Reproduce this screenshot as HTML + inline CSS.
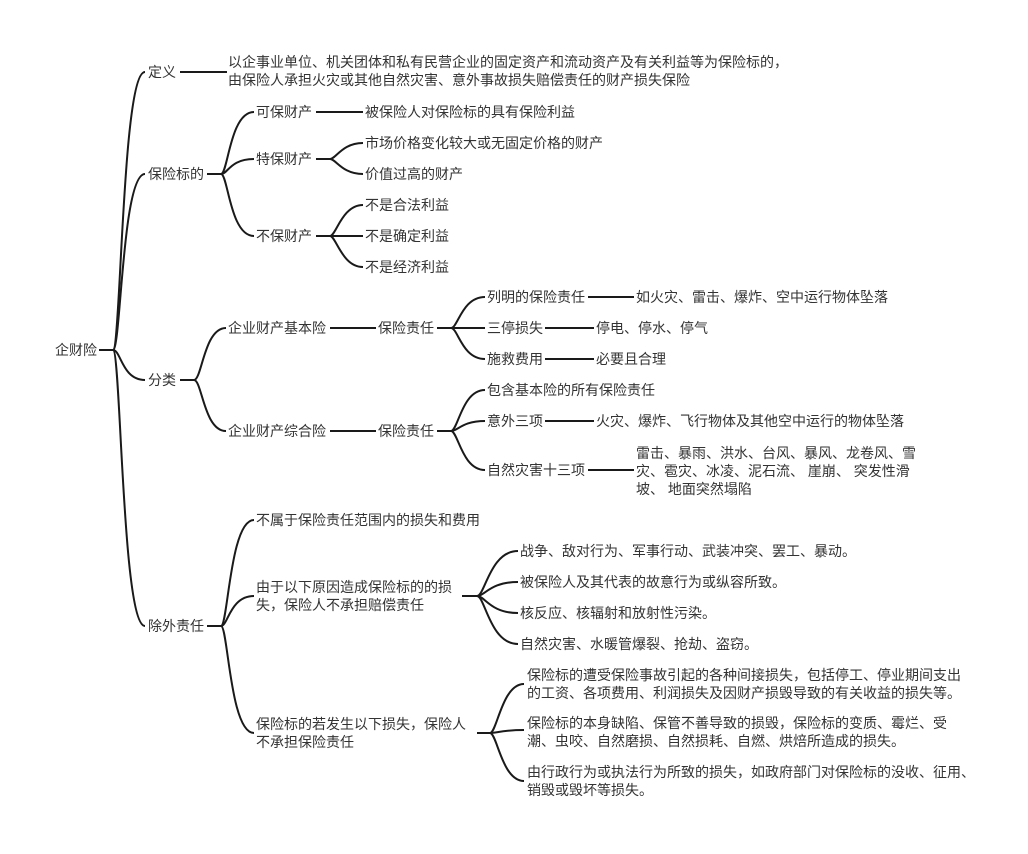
<!DOCTYPE html>
<html><head><meta charset="utf-8"><style>
html,body{margin:0;padding:0;background:#fff;}
svg{display:block}
text{font-family:"Liberation Sans","Noto Sans CJK SC",sans-serif;font-size:14px;fill:#333;dominant-baseline:central}
path,line{stroke:#1a1a1a;stroke-width:2;fill:none}
</style></head><body>
<svg width="1028" height="854" viewBox="0 0 1028 854" xmlns="http://www.w3.org/2000/svg">
<text x="55" y="350">企财险</text>
<line x1="99" y1="350" x2="113" y2="350"/>
<path d="M113 350 C121 350 122 72 145 72"/>
<path d="M113 350 C121 350 122 174 145 174"/>
<path d="M113 350 C121 350 122 380 145 380"/>
<path d="M113 350 C121 350 122 626 145 626"/>

<text x="148" y="72">定义</text>
<line x1="180" y1="72" x2="227" y2="72"/>
<text x="228" y="62">以企事业单位、机关团体和私有民营企业的固定资产和流动资产及有关利益等为保险标的，</text>
<text x="228" y="80">由保险人承担火灾或其他自然灾害、意外事故损失赔偿责任的财产损失保险</text>

<text x="148" y="174">保险标的</text>
<line x1="207" y1="174" x2="221" y2="174"/>
<path d="M221 174 C228 174 230 112 254 112"/>
<path d="M221 174 C228 174 230 159 254 159"/>
<path d="M221 174 C228 174 230 236 254 236"/>
<text x="256" y="112">可保财产</text>
<line x1="316" y1="112" x2="363" y2="112"/>
<text x="365" y="112">被保险人对保险标的具有保险利益</text>
<text x="256" y="159">特保财产</text>
<line x1="316" y1="159" x2="330" y2="159"/>
<path d="M330 159 C336 159 342 143 363 143"/>
<path d="M330 159 C336 159 342 174 363 174"/>
<text x="365" y="143">市场价格变化较大或无固定价格的财产</text>
<text x="365" y="174">价值过高的财产</text>
<text x="256" y="236">不保财产</text>
<line x1="316" y1="236" x2="363" y2="236"/>
<path d="M330 236 C336 236 342 205 363 205"/>
<path d="M330 236 C336 236 342 267 363 267"/>
<text x="365" y="205">不是合法利益</text>
<text x="365" y="236">不是确定利益</text>
<text x="365" y="267">不是经济利益</text>

<text x="148" y="380">分类</text>
<line x1="180" y1="380" x2="194" y2="380"/>
<path d="M194 380 C202 380 204 328 226 328"/>
<path d="M194 380 C202 380 204 431 226 431"/>
<text x="228" y="328">企业财产基本险</text>
<line x1="330" y1="328" x2="376" y2="328"/>
<text x="378" y="328">保险责任</text>
<line x1="437" y1="328" x2="451" y2="328"/>
<path d="M451 328 C458 328 462 297 485 297"/>
<path d="M451 328 C458 328 462 359 485 359"/>
<line x1="451" y1="328" x2="485" y2="328"/>
<text x="487" y="297">列明的保险责任</text>
<line x1="588" y1="297" x2="634" y2="297"/>
<text x="636" y="297">如火灾、雷击、爆炸、空中运行物体坠落</text>
<text x="487" y="328">三停损失</text>
<line x1="545" y1="328" x2="594" y2="328"/>
<text x="596" y="328">停电、停水、停气</text>
<text x="487" y="359">施救费用</text>
<line x1="545" y1="359" x2="594" y2="359"/>
<text x="596" y="359">必要且合理</text>

<text x="228" y="431">企业财产综合险</text>
<line x1="330" y1="431" x2="376" y2="431"/>
<text x="378" y="431">保险责任</text>
<line x1="437" y1="431" x2="451" y2="431"/>
<path d="M451 431 C458 431 462 390 485 390"/>
<path d="M451 431 C458 431 462 421 485 421"/>
<path d="M451 431 C458 431 462 470 485 470"/>
<text x="487" y="390">包含基本险的所有保险责任</text>
<text x="487" y="421">意外三项</text>
<line x1="545" y1="421" x2="594" y2="421"/>
<text x="596" y="421">火灾、爆炸、飞行物体及其他空中运行的物体坠落</text>
<text x="487" y="470">自然灾害十三项</text>
<line x1="588" y1="470" x2="634" y2="470"/>
<text x="636" y="453">雷击、暴雨、洪水、台风、暴风、龙卷风、雪</text>
<text x="636" y="471">灾、雹灾、冰凌、泥石流、 崖崩、 突发性滑</text>
<text x="636" y="489">坡、 地面突然塌陷</text>

<text x="148" y="626">除外责任</text>
<line x1="207" y1="626" x2="221" y2="626"/>
<path d="M221 626 C228 626 230 520 254 520"/>
<path d="M221 626 C228 626 230 596 254 596"/>
<path d="M221 626 C228 626 230 733 254 733"/>
<text x="256" y="520">不属于保险责任范围内的损失和费用</text>
<text x="256" y="587">由于以下原因造成保险标的的损</text>
<text x="256" y="605">失，保险人不承担赔偿责任</text>
<line x1="462" y1="596" x2="477" y2="596"/>
<path d="M477 596 C485 596 490 551 518 551"/>
<path d="M477 596 C485 596 490 582 518 582"/>
<path d="M477 596 C485 596 490 613 518 613"/>
<path d="M477 596 C485 596 490 644 518 644"/>
<text x="520" y="551">战争、敌对行为、军事行动、武装冲突、罢工、暴动。</text>
<text x="520" y="582">被保险人及其代表的故意行为或纵容所致。</text>
<text x="520" y="613">核反应、核辐射和放射性污染。</text>
<text x="520" y="644">自然灾害、水暖管爆裂、抢劫、盗窃。</text>

<text x="256" y="724">保险标的若发生以下损失，保险人</text>
<text x="256" y="742">不承担保险责任</text>
<line x1="477" y1="733" x2="490" y2="733"/>
<path d="M490 733 C497 733 502 684 524 684"/>
<path d="M490 733 C497 733 502 730 524 730"/>
<path d="M490 733 C497 733 502 781 524 781"/>
<text x="527" y="675">保险标的遭受保险事故引起的各种间接损失，包括停工、停业期间支出</text>
<text x="527" y="693">的工资、各项费用、利润损失及因财产损毁导致的有关收益的损失等。</text>
<text x="527" y="723">保险标的本身缺陷、保管不善导致的损毁，保险标的变质、霉烂、受</text>
<text x="527" y="741">潮、虫咬、自然磨损、自然损耗、自燃、烘焙所造成的损失。</text>
<text x="527" y="772">由行政行为或执法行为所致的损失，如政府部门对保险标的没收、征用、</text>
<text x="527" y="790">销毁或毁坏等损失。</text>
</svg>
</body></html>
